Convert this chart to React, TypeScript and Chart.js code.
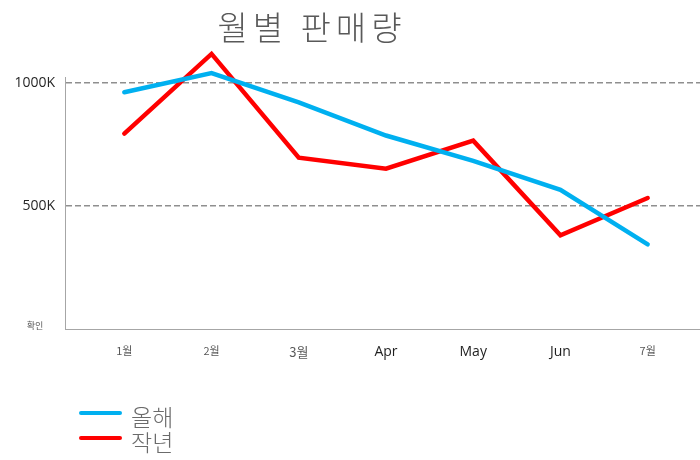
import React, { useEffect, useRef } from "react";
import { Chart, registerables } from "chart.js";

Chart.register(...registerables);

const categories = ["1월", "2월", "3월", "Apr", "May", "Jun", "7월"];
const thisYear = [963, 1041, 922, 787, 684, 566, 344];
const lastYear = [795, 1119, 697, 652, 766, 381, 533];
const seriesNames = ["올해", "작년"];
const yTicks = [500, 1000];
const titleText = "월별 판매량";
const cornerText = "확인";

const BLUE = "#00B0F0";
const RED = "#FF0000";

const overlay = {
  id: "overlay",
  afterDraw(chart: any) {
    const ctx = chart.ctx;
    ctx.save();
    // title
    ctx.fillStyle = "#595959";
    ctx.font = '300 33px "Noto Sans CJK KR"';
    (ctx as any).letterSpacing = "5px";
    ctx.textAlign = "center";
    ctx.textBaseline = "middle";
    ctx.fillText(titleText, 312, 27);
    (ctx as any).letterSpacing = "0px";
    // corner label
    ctx.font = '9px "Noto Sans CJK KR"';
    ctx.fillStyle = "#595959";
    ctx.fillText(cornerText, 35, 326);
    // legend
    const ds = chart.data.datasets;
    ds.forEach((d: any, i: number) => {
      const y = 413 + i * 25;
      ctx.strokeStyle = d.borderColor;
      ctx.lineWidth = 4;
      ctx.lineCap = "round";
      ctx.beginPath();
      ctx.moveTo(81, y);
      ctx.lineTo(120, y);
      ctx.stroke();
      ctx.fillStyle = "#6b6b6b";
      ctx.font = '300 23px "Noto Sans CJK KR"';
      ctx.textAlign = "left";
      ctx.textBaseline = "middle";
      ctx.fillText(d.label, 131, y + 4);
    });
    ctx.restore();
  },
};

export default function App() {
  const ref = useRef<HTMLCanvasElement>(null);
  useEffect(() => {
    document.body.style.margin = "0";
    const toPts = (arr: number[]) => arr.map((v, i) => ({ x: i, y: v }));
    const chart = new Chart(ref.current as HTMLCanvasElement, {
      type: "line",
      data: {
        datasets: [
          {
            label: seriesNames[0],
            data: toPts(thisYear),
            borderColor: BLUE,
            backgroundColor: BLUE,
            borderWidth: 4.5,
            pointRadius: 0,
            borderCapStyle: "round",
            borderJoinStyle: "miter",
            clip: false as any,
            tension: 0,
          },
          {
            label: seriesNames[1],
            data: toPts(lastYear),
            borderColor: RED,
            backgroundColor: RED,
            borderWidth: 4.5,
            pointRadius: 0,
            borderCapStyle: "round",
            borderJoinStyle: "miter",
            clip: false as any,
            tension: 0,
          },
        ],
      },
      options: {
        responsive: false,
        animation: false,
        layout: { padding: { top: 77, left: 0, right: 0, bottom: 0 } },
        plugins: {
          legend: { display: false },
          title: { display: false },
          tooltip: { enabled: false },
        },
        scales: {
          x: {
            type: "linear",
            min: -0.68,
            max: 6.6,
            afterBuildTicks: (s: any) => {
              s.ticks = categories.map((_, i) => ({ value: i }));
            },
            afterFit: (s: any) => {
              s.height = 131;
            },
            grid: { display: false, drawTicks: false },
            border: { display: true, color: "#a6a6a6", width: 1 },
            ticks: {
              padding: 15,
              maxRotation: 0,
              autoSkip: false,
              callback: (v: any) => categories[v as number],
              font: (c: any) => {
                const i = c.index;
                if (i >= 3 && i <= 5) return { family: '"Open Sans"', size: 14 };
                if (i === 2) return { family: '"Noto Sans CJK KR"', size: 13 };
                return { family: '"Noto Sans CJK KR"', size: 11 };
              },
              color: (c: any) => {
                const i = c.index;
                if (i >= 3 && i <= 5) return "#1f1f1f";
                return "#595959";
              },
            },
          },
          y: {
            min: 0,
            max: 1025,
            afterBuildTicks: (s: any) => {
              s.ticks = yTicks.map((v) => ({ value: v }));
            },
            afterFit: (s: any) => {
              s.width = 65;
            },
            grid: { color: "#8f8f8f", lineWidth: 1.5, drawTicks: false },
            border: { display: true, color: "#a6a6a6", width: 1, dash: [6, 3] },
            ticks: {
              padding: 10,
              callback: (v: any) => `${v}K`,
              font: { family: '"Open Sans"', size: 14 },
              color: "#262626",
            },
          },
        },
      },
      plugins: [overlay],
    });
    return () => chart.destroy();
  }, []);
  return (
    <div style={{ width: 700, height: 460 }}>
      <canvas ref={ref} width={700} height={460} style={{ display: "block" }} />
    </div>
  );
}
